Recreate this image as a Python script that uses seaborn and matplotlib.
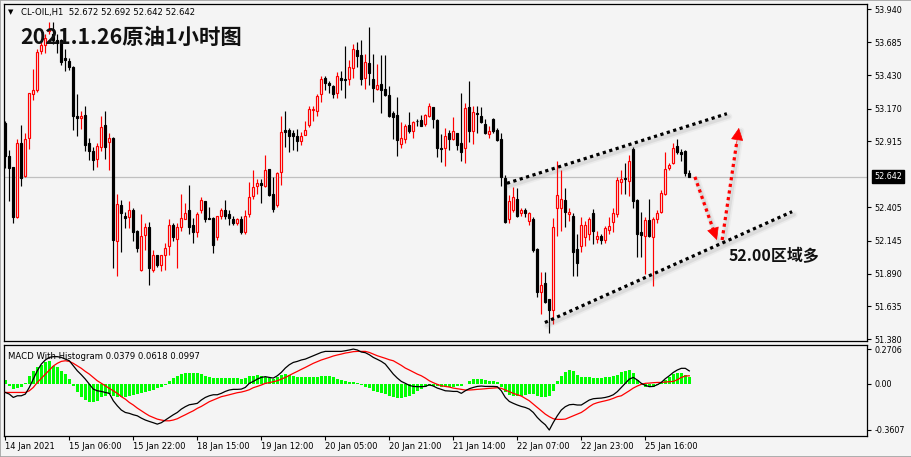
import matplotlib
matplotlib.use("Agg")
import matplotlib.pyplot as plt
import matplotlib.transforms as mtransforms
from matplotlib.patches import Rectangle
import numpy as np
import pandas as pd
import seaborn as sns

# ---------------- data ----------------
opens = [53.06, 52.80, 52.72, 52.33, 52.90, 52.65, 52.94, 53.28, 53.31, 53.62,
         53.66, 53.77, 53.75, 53.70, 53.70, 53.56, 53.54, 53.49, 53.11, 53.10,
         53.12, 52.90, 52.84, 52.78, 52.87, 53.04, 52.91, 52.94, 52.14, 52.42,
         52.34, 52.33, 52.38, 52.22, 51.92, 52.19, 52.25, 51.92, 52.03, 51.96,
         52.03, 52.10, 52.27, 52.16, 52.25, 52.31, 52.38, 52.27, 52.21, 52.38,
         52.45, 52.32, 52.32, 52.17, 52.34, 52.38, 52.35, 52.31, 52.28, 52.31,
         52.21, 52.35, 52.49, 52.57, 52.59, 52.57, 52.70, 52.51, 52.42, 52.68,
         53.00, 53.00, 52.98, 52.96, 52.92, 52.965, 53.04, 53.155, 53.15, 53.28,
         53.41, 53.365, 53.345, 53.29, 53.41, 53.397, 53.40, 53.482, 53.625, 53.585,
         53.405, 53.526, 53.397, 53.32, 53.358, 53.322, 53.275, 53.133, 53.12, 52.892,
         52.931, 53.04, 52.996, 53.075, 53.081, 53.048, 53.112, 53.18, 53.081, 52.867,
         52.867, 52.983, 52.934, 52.978, 52.90, 52.861, 53.18, 52.996, 53.135, 53.112,
         53.05, 52.97, 53.089, 53.004, 52.934, 52.629, 52.31, 52.38, 52.47, 52.36,
         52.38, 52.30, 52.31, 52.08, 51.75, 51.82, 51.69, 51.61, 52.40, 52.40,
         52.46, 52.35, 52.34, 52.08, 52.10, 52.17, 52.20, 52.36, 52.16, 52.18,
         52.15, 52.23, 52.29, 52.35, 52.60, 52.63, 52.61, 52.86, 52.46, 52.21,
         52.18, 52.305, 52.17, 52.31, 52.37, 52.51, 52.71, 52.75, 52.88, 52.83,
         52.84, 52.672]
highs = [53.07, 52.85, 52.72, 52.93, 53.04, 52.98, 53.29, 53.48, 53.63, 53.69,
         53.75, 53.84, 53.84, 53.75, 53.71, 53.63, 53.56, 53.50, 53.28, 53.15,
         53.19, 52.94, 52.87, 52.90, 53.11, 53.15, 52.98, 52.95, 52.51, 52.46,
         52.37, 52.45, 52.40, 52.23, 52.35, 52.28, 52.29, 52.07, 52.03, 52.03,
         52.13, 52.31, 52.28, 52.28, 52.51, 52.44, 52.58, 52.32, 52.37, 52.48,
         52.45, 52.41, 52.33, 52.34, 52.40, 52.46, 52.38, 52.34, 52.32, 52.34,
         52.38, 52.60, 52.69, 52.62, 52.62, 52.81, 52.70, 52.64, 52.68, 53.11,
         53.15, 53.02, 53.00, 53.01, 52.99, 53.07, 53.19, 53.19, 53.28, 53.42,
         53.42, 53.38, 53.35, 53.45, 53.46, 53.655, 53.55, 53.67, 53.69, 53.70,
         53.593, 53.805, 53.593, 53.516, 53.585, 53.585, 53.345, 53.154, 53.262, 53.068,
         53.05, 53.14, 53.073, 53.091, 53.12, 53.128, 53.21, 53.18, 53.086, 52.97,
         53.017, 53.004, 53.107, 52.983, 53.288, 53.21, 53.384, 53.19, 53.19, 53.18,
         53.086, 53.035, 53.094, 53.017, 52.978, 52.655, 52.50, 52.56, 52.55, 52.40,
         52.40, 52.37, 52.33, 52.09, 51.90, 51.90, 51.69, 52.32, 52.76, 52.69,
         52.55, 52.40, 52.36, 52.20, 52.33, 52.30, 52.33, 52.39, 52.22, 52.20,
         52.26, 52.33, 52.40, 52.64, 52.69, 52.75, 52.81, 52.87, 52.47, 52.37,
         52.33, 52.47, 52.33, 52.38, 52.54, 52.83, 52.75, 52.90, 52.93, 52.86,
         52.85, 52.692]
lows = [52.71, 52.45, 52.28, 52.32, 52.57, 52.64, 52.86, 53.24, 53.30, 53.59,
        53.60, 53.75, 53.67, 53.60, 53.51, 53.46, 53.47, 53.00, 52.96, 53.01,
        52.84, 52.77, 52.69, 52.72, 52.84, 52.78, 52.69, 51.93, 51.87, 52.06,
        52.24, 52.24, 52.14, 52.06, 51.91, 52.07, 51.80, 51.90, 51.94, 51.91,
        51.92, 52.03, 52.14, 51.93, 52.22, 52.31, 52.20, 52.13, 52.17, 52.36,
        52.29, 52.31, 52.05, 52.15, 52.31, 52.31, 52.27, 52.27, 52.27, 52.20,
        52.20, 52.33, 52.47, 52.51, 52.44, 52.56, 52.49, 52.37, 52.41, 52.58,
        52.87, 52.83, 52.85, 52.84, 52.89, 52.965, 53.03, 53.07, 53.11, 53.22,
        53.31, 53.29, 53.25, 53.25, 53.31, 53.25, 53.35, 53.41, 53.49, 53.353,
        53.32, 53.353, 53.223, 53.31, 53.138, 53.267, 53.107, 52.931, 52.805, 52.867,
        52.90, 52.978, 52.944, 53.035, 53.035, 53.035, 53.107, 53.017, 52.797, 52.758,
        52.727, 52.848, 52.926, 52.848, 52.763, 52.75, 52.913, 52.892, 52.978, 53.055,
        52.973, 52.939, 52.978, 52.92, 52.57, 52.28, 52.28, 52.37, 52.33, 52.34,
        52.33, 52.27, 52.06, 51.71, 51.58, 51.66, 51.43, 51.50, 52.18, 52.22,
        52.25, 52.30, 51.87, 51.87, 52.06, 52.10, 52.15, 52.12, 52.13, 52.12,
        52.13, 52.20, 52.21, 52.33, 52.51, 52.51, 52.49, 52.40, 52.02, 52.02,
        51.89, 52.17, 51.79, 52.28, 52.36, 52.50, 52.69, 52.74, 52.82, 52.76,
        52.65, 52.642]
closes = [52.80, 52.71, 52.33, 52.90, 52.63, 52.93, 53.29, 53.31, 53.61, 53.66,
          53.72, 53.79, 53.70, 53.68, 53.53, 53.55, 53.49, 53.11, 53.10, 53.11,
          52.89, 52.84, 52.77, 52.88, 53.03, 52.87, 52.94, 52.15, 52.43, 52.36,
          52.32, 52.38, 52.21, 52.09, 52.18, 52.25, 51.93, 52.03, 51.96, 52.03,
          52.09, 52.27, 52.17, 52.25, 52.32, 52.36, 52.25, 52.21, 52.35, 52.46,
          52.31, 52.31, 52.11, 52.34, 52.38, 52.34, 52.32, 52.28, 52.31, 52.21,
          52.34, 52.48, 52.56, 52.59, 52.58, 52.69, 52.50, 52.39, 52.67, 52.99,
          52.99, 52.96, 52.96, 52.92, 52.96, 53.00, 53.17, 53.17, 53.27, 53.40,
          53.37, 53.355, 53.28, 53.42, 53.39, 53.392, 53.49, 53.63, 53.58, 53.397,
          53.53, 53.443, 53.327, 53.353, 53.31, 53.275, 53.115, 53.107, 52.926, 52.939,
          53.035, 52.998, 53.063, 53.07, 53.037, 53.12, 53.19, 53.086, 52.867, 52.86,
          52.96, 52.934, 52.996, 52.887, 52.836, 53.172, 52.996, 53.14, 53.13, 53.063,
          52.978, 52.996, 52.996, 52.926, 52.642, 52.292, 52.45, 52.48, 52.34, 52.38,
          52.36, 52.36, 52.07, 51.75, 51.80, 51.67, 51.61, 52.25, 52.50, 52.47,
          52.37, 52.37, 52.06, 51.97, 52.27, 52.27, 52.31, 52.22, 52.18, 52.15,
          52.24, 52.26, 52.36, 52.615, 52.62, 52.62, 52.765, 52.45, 52.20, 52.19,
          52.305, 52.18, 52.31, 52.357, 52.512, 52.70, 52.73, 52.861, 52.83, 52.82,
          52.67, 52.642]

macd_main = [-0.068, -0.081, -0.107, -0.094, -0.094, -0.081, -0.029, 0.036, 0.101, 0.153,
             0.185, 0.205, 0.211, 0.211, 0.205, 0.192, 0.179, 0.140, 0.101, 0.070,
             0.036, -0.003, -0.042, -0.055, -0.060, -0.068, -0.075, -0.133, -0.172, -0.205,
             -0.224, -0.231, -0.242, -0.250, -0.268, -0.283, -0.294, -0.304, -0.315, -0.304,
             -0.283, -0.263, -0.242, -0.224, -0.198, -0.179, -0.164, -0.159, -0.153, -0.127,
             -0.107, -0.094, -0.086, -0.086, -0.075, -0.060, -0.049, -0.044, -0.044, -0.042,
             -0.029, 0.003, 0.018, 0.036, 0.049, 0.055, 0.049, 0.044, 0.062, 0.088,
             0.122, 0.148, 0.166, 0.174, 0.185, 0.192, 0.205, 0.218, 0.231, 0.244,
             0.252, 0.252, 0.252, 0.252, 0.252, 0.257, 0.263, 0.270, 0.263, 0.247,
             0.242, 0.226, 0.205, 0.190, 0.174, 0.153, 0.114, 0.075, 0.044, 0.018,
             0.003, -0.013, -0.021, -0.023, -0.023, -0.021, -0.008, -0.018, -0.034, -0.044,
             -0.055, -0.057, -0.060, -0.060, -0.075, -0.055, -0.039, -0.029, -0.021, -0.018,
             -0.021, -0.021, -0.021, -0.023, -0.055, -0.107, -0.138, -0.153, -0.166, -0.177,
             -0.185, -0.198, -0.224, -0.263, -0.294, -0.320, -0.361, -0.302, -0.250, -0.205,
             -0.179, -0.164, -0.161, -0.166, -0.166, -0.146, -0.127, -0.117, -0.114, -0.112,
             -0.107, -0.099, -0.086, -0.062, -0.029, 0.003, 0.036, 0.049, 0.029, 0.003,
             -0.013, -0.023, -0.021, -0.008, 0.010, 0.039, 0.062, 0.088, 0.107, 0.120,
             0.120, 0.0997]
macd_signal = [-0.068, -0.068, -0.068, -0.068, -0.068, -0.068, -0.055, -0.029, 0.010, 0.042,
               0.075, 0.107, 0.138, 0.159, 0.174, 0.179, 0.174, 0.159, 0.140, 0.120,
               0.096, 0.075, 0.049, 0.023, 0.003, -0.016, -0.036, -0.055, -0.075, -0.101,
               -0.120, -0.146, -0.166, -0.190, -0.211, -0.231, -0.250, -0.263, -0.276, -0.283,
               -0.289, -0.289, -0.283, -0.273, -0.257, -0.242, -0.226, -0.211, -0.192, -0.177,
               -0.159, -0.140, -0.127, -0.114, -0.101, -0.094, -0.086, -0.078, -0.070, -0.065,
               -0.057, -0.047, -0.031, -0.021, -0.010, 0.003, 0.008, 0.016, 0.023, 0.036,
               0.049, 0.065, 0.081, 0.096, 0.112, 0.127, 0.143, 0.159, 0.172, 0.185,
               0.195, 0.205, 0.216, 0.224, 0.231, 0.239, 0.244, 0.250, 0.252, 0.252,
               0.252, 0.244, 0.231, 0.218, 0.208, 0.198, 0.187, 0.179, 0.161, 0.143,
               0.122, 0.107, 0.091, 0.075, 0.062, 0.044, 0.023, 0.008, -0.005, -0.016,
               -0.021, -0.026, -0.034, -0.039, -0.044, -0.049, -0.049, -0.047, -0.044, -0.042,
               -0.039, -0.036, -0.034, -0.031, -0.036, -0.049, -0.062, -0.075, -0.086, -0.096,
               -0.114, -0.133, -0.159, -0.185, -0.211, -0.237, -0.257, -0.273, -0.278, -0.278,
               -0.276, -0.263, -0.250, -0.237, -0.224, -0.203, -0.179, -0.159, -0.148, -0.140,
               -0.133, -0.125, -0.114, -0.101, -0.094, -0.075, -0.055, -0.034, -0.018, -0.005,
               0.003, 0.005, 0.008, 0.010, 0.010, 0.013, 0.016, 0.018, 0.031, 0.049,
               0.060, 0.0618]
macd_hist = [0.029, -0.016, -0.042, -0.036, -0.023, 0.003, 0.062, 0.101, 0.133, 0.148,
             0.166, 0.174, 0.140, 0.127, 0.101, 0.075, 0.036, -0.016, -0.068, -0.107,
             -0.127, -0.146, -0.146, -0.133, -0.107, -0.094, -0.081, -0.094, -0.107, -0.107,
             -0.101, -0.094, -0.086, -0.081, -0.075, -0.068, -0.055, -0.049, -0.034, -0.023,
             -0.010, 0.018, 0.044, 0.062, 0.075, 0.086, 0.086, 0.081, 0.081, 0.075,
             0.062, 0.049, 0.044, 0.044, 0.044, 0.042, 0.042, 0.042, 0.042, 0.034,
             0.044, 0.057, 0.062, 0.068, 0.062, 0.049, 0.042, 0.036, 0.049, 0.070,
             0.075, 0.068, 0.062, 0.055, 0.055, 0.055, 0.055, 0.052, 0.055, 0.057,
             0.062, 0.057, 0.049, 0.039, 0.029, 0.023, 0.016, 0.010, 0.008, -0.010,
             -0.023, -0.034, -0.055, -0.062, -0.073, -0.081, -0.094, -0.101, -0.112, -0.114,
             -0.107, -0.094, -0.081, -0.060, -0.042, -0.023, -0.018, -0.018, -0.021, -0.023,
             -0.023, -0.023, -0.023, -0.018, -0.016, -0.003, 0.018, 0.034, 0.039, 0.036,
             0.029, 0.023, 0.018, 0.010, -0.023, -0.068, -0.086, -0.094, -0.094, -0.094,
             -0.086, -0.081, -0.081, -0.094, -0.101, -0.107, -0.094, -0.055, 0.018, 0.062,
             0.088, 0.107, 0.096, 0.070, 0.055, 0.049, 0.049, 0.044, 0.044, 0.044,
             0.049, 0.049, 0.057, 0.070, 0.088, 0.101, 0.107, 0.081, 0.029, -0.008,
             -0.023, -0.029, -0.029, -0.008, 0.008, 0.029, 0.055, 0.075, 0.083, 0.083,
             0.070, 0.049]

date_labels = ["14 Jan 2021", "15 Jan 06:00", "15 Jan 22:00", "18 Jan 15:00",
               "19 Jan 12:00", "20 Jan 05:00", "20 Jan 21:00", "21 Jan 14:00",
               "22 Jan 07:00", "22 Jan 23:00", "25 Jan 16:00"]
bars_per_label = 16
price_ticks = [53.940, 53.685, 53.430, 53.170, 52.915, 52.405, 52.145, 51.890, 51.635, 51.380]
last_price = 52.642
macd_ticks = [0.2706, 0.0, -0.3607]
macd_tick_labels = ["0.2706", "0.00", "-0.3607"]
header_text = "CL-OIL,H1  52.672 52.692 52.642 52.642"
title_text = "2021.1.26原油1小时图"
note_text = "52.00区域多"
macd_label = "MACD With Histogram 0.0379 0.0618 0.0997"

# drawn annotations, in (bar index, price)
channel_upper = [(125.4, 52.59), (180.4, 53.13)]
channel_lower = [(134.9, 51.51), (196.7, 52.37)]
arrow_down = [(172.4, 52.64), (177.9, 52.15)]
arrow_up = [(179.2, 52.15), (183.4, 53.02)]
title_pos = (3.7, 53.725)
note_pos = (180.7, 52.03)

# ---------------- figure ----------------
BG = "#F4F4F4"
W, H = 912, 457
fig = plt.figure(figsize=(W / 100, H / 100), dpi=100, facecolor=BG)
plt.rcParams['font.family'] = ['DejaVu Sans']

left_px, right_px = 4, 867
ax = fig.add_axes([left_px / W, 1 - 341 / H, (right_px - left_px) / W, (341 - 4) / H])
axm = fig.add_axes([left_px / W, 1 - 436 / H, (right_px - left_px) / W, (436 - 345) / H])

n = len(closes)
df = pd.DataFrame({"i": np.arange(n), "open": opens, "high": highs, "low": lows,
                   "close": closes, "macd": macd_main, "signal": macd_signal,
                   "hist": macd_hist})
xlim = ((left_px - 5.3) / 4.0, (right_px - 5.3) / 4.0)

for a in (ax, axm):
    a.set_facecolor(BG)
    a.set_xlim(*xlim)
    for s in a.spines.values():
        s.set_color("black")
        s.set_linewidth(0.9)

# price pane
ax.set_ylim(51.3667, 53.981)
ax.axhline(last_price, color="#C0C0C0", lw=0.9, zorder=1)
up = df["close"] >= df["open"]
col = np.where(up, "#FF0000", "#000000")
ax.vlines(df["i"], df["low"], df["high"], colors=col, lw=0.85, zorder=2)
bottoms = np.minimum(df["open"], df["close"])
heights = np.maximum((df["close"] - df["open"]).abs(), 0.003)
ax.bar(df["i"], heights, bottom=bottoms, width=0.5,
       color=np.where(up, BG, "#000000"), edgecolor=col, linewidth=0.85, zorder=3)

ax.yaxis.tick_right()
ax.set_yticks(price_ticks)
ax.set_yticklabels([f"{v:.3f}" for v in price_ticks])
ax.tick_params(axis="y", direction="out", length=3, width=0.8, pad=2.5,
               labelsize=5.8, colors="black")
ax.set_xticks([])

bt = mtransforms.blended_transform_factory(ax.transAxes, ax.transData)
ax.text(1.0085, last_price, f"{last_price:.3f}", transform=bt, ha="left", va="center",
        fontsize=5.8, color="white", zorder=10,
        bbox=dict(boxstyle="square,pad=0.25", facecolor="black", edgecolor="black"))

# channel lines with soft shadow
shadow = mtransforms.offset_copy(ax.transData, fig=fig, x=2.0, y=-3.0, units="dots")


def draw_shadow(xs, ys):
    ax.plot(xs, ys, color="#808080", lw=5.0, alpha=0.07, transform=shadow,
            solid_capstyle="round", zorder=6)
    ax.plot(xs, ys, color="#808080", lw=2.6, alpha=0.14, transform=shadow,
            solid_capstyle="round", zorder=6)


for seg in (channel_upper, channel_lower):
    xs = [p[0] for p in seg]
    ys = [p[1] for p in seg]
    draw_shadow(xs, ys)
    ax.plot(xs, ys, color="black", lw=2.3, linestyle=(0, (1, 1.1)),
            dash_capstyle="butt", zorder=7)

for seg in (arrow_down, arrow_up):
    (x0, y0), (x1, y1) = seg
    draw_shadow([x0, x1], [y0, y1])
    fx = x0 + (x1 - x0) * 0.86
    fy = y0 + (y1 - y0) * 0.86
    ax.plot([x0, fx], [y0, fy], color="#FF0000", lw=2.3, linestyle=(0, (1, 1.1)),
            dash_capstyle="butt", zorder=7)
    ax.annotate("", xy=(x1, y1), xytext=(fx, fy),
                arrowprops=dict(arrowstyle="-|>,head_length=0.8,head_width=0.4",
                                color="#FF0000", lw=0.5, shrinkA=0, shrinkB=0),
                zorder=8)

ax.text(title_pos[0], title_pos[1], title_text, fontsize=15.4, fontweight="bold",
        family=["Noto Sans CJK SC", "DejaVu Sans"], color="#111111",
        ha="left", va="center", zorder=12)
ax.text(note_pos[0], note_pos[1], note_text, fontsize=11.5, fontweight="bold",
        family=["Noto Sans CJK SC", "DejaVu Sans"], color="#111111",
        ha="left", va="center", zorder=12)

# header line
ax.text(0.0045, 0.975, "\u25BC", transform=ax.transAxes, fontsize=5, ha="left",
        va="center", color="black", zorder=12)
ax.text(0.0195, 0.975, header_text, transform=ax.transAxes, fontsize=6.1, ha="left",
        va="center", color="black", zorder=12)

# MACD pane
axm.set_ylim(-0.4075, 0.3018)
axm.bar(df["i"], df["hist"], width=0.75, color="#00FF00", zorder=2)
sns.lineplot(data=df, x="i", y="signal", ax=axm, color="#FF0000", lw=0.9,
             zorder=3, legend=False)
sns.lineplot(data=df, x="i", y="macd", ax=axm, color="#000000", lw=0.9,
             zorder=4, legend=False)
axm.set_xlabel("")
axm.set_ylabel("")
axm.set_xlim(*xlim)
axm.yaxis.tick_right()
axm.set_yticks(macd_ticks)
axm.set_yticklabels(macd_tick_labels)
axm.tick_params(axis="y", direction="out", length=3, width=0.8, pad=2.5,
                labelsize=5.8, colors="black")
tick_pos = [k * bars_per_label for k in range(len(date_labels))]
axm.set_xticks(tick_pos)
axm.set_xticklabels(date_labels)
axm.tick_params(axis="x", direction="out", length=3, width=0.8, pad=1.5,
                labelsize=6.0, colors="black")
for lbl in axm.get_xticklabels():
    lbl.set_horizontalalignment("left")
axm.text(0.005, 0.87, macd_label, transform=axm.transAxes, fontsize=6.1, ha="left",
         va="center", color="black", zorder=12)

fig.patches.append(Rectangle((0, 0), 1, 1, transform=fig.transFigure, fill=False,
                             edgecolor="#A0A0A0", lw=1.2))

fig.savefig("out.png", dpi=100, facecolor=BG)
